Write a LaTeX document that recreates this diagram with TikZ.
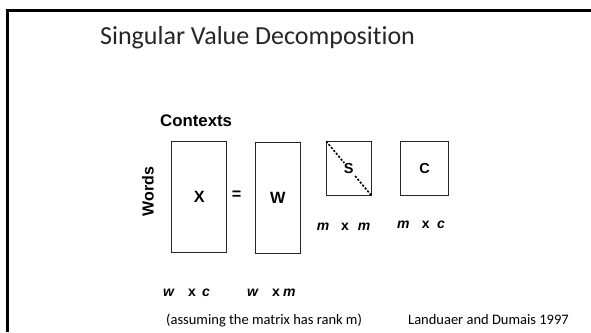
\documentclass[tikz,border=0pt]{standalone}
\usepackage{fontspec}
\setmainfont{Carlito}[Ligatures=NoCommon]
\newfontfamily\arialf{Liberation Sans}
\usetikzlibrary{calc}
\begin{document}
\begin{tikzpicture}[x=1pt,y=-1pt,
  mat/.style={draw=black!85,line width=0.9pt,inner sep=0pt},
  big/.style={font=\arialf\bfseries\fontsize{16.3}{18}\selectfont},
  small/.style={font=\arialf\bfseries\fontsize{14.5}{17}\selectfont},
  dimlab/.style={inner sep=0pt,anchor=base west,font=\arialf\bfseries\itshape\fontsize{14}{16}\selectfont},
  diag/.style={line width=1.6pt,dash pattern=on 2.2pt off 1.6pt},
  note/.style={inner sep=0pt,anchor=base west,font=\fontsize{14.5}{17}\selectfont}]
\useasboundingbox (0,0) rectangle (591,332);
\fill[white] (0,0) rectangle (591,332);
\draw[line width=2.2pt] (7.5,332) -- (7.5,10.5) -- (591,10.5);
\node[inner sep=0pt,anchor=base west,text=black!85,font=\fontsize{26}{30}\selectfont] (title) at (100,44.5) {Singular Value Decomposition};
\node[inner sep=0pt,anchor=base west,font=\arialf\bfseries\fontsize{16.8}{19}\selectfont] (ctx) at (160,126.7) {Contexts};
\node[inner sep=0pt,rotate=90,anchor=base west,font=\arialf\bfseries\fontsize{16}{18}\selectfont] (words) at (153.5,216.7) {Words};
\node[mat,big,minimum width=55pt,minimum height=111pt] (X) at (199.2,197.2) {X};
\node[inner sep=0pt,big] (eq) at (236.7,195.5) {=};
\node[mat,big,minimum width=44.3pt,minimum height=111pt] (W) at (277.8,197.6) {W};
\node[mat,small,minimum width=44.3pt,minimum height=53.3pt] (S) at (348.8,168.4) {S};
\node[mat,small,minimum width=47.6pt,minimum height=54pt] (C) at (424.5,168.7) {C};
\draw[diag] (S.north west) -- ($(S.north west)!0.4!(S.south east)$);
\draw[diag] ($(S.north west)!0.64!(S.south east)$) -- (S.south east);
\node[dimlab] (dmm) at (316.7,230) {\makebox[24.3pt][l]{m}\makebox[16.7pt][l]{\upshape x}m};
\node[dimlab] (dmc) at (397,228.3) {\makebox[24.7pt][l]{m}\makebox[15.3pt][l]{\upshape x}c};
\node[dimlab] (dwc) at (163,296.5) {\makebox[25pt][l]{w}\makebox[14pt][l]{\upshape x}c};
\node[dimlab] (dwm) at (247,296.5) {\makebox[25pt][l]{w}\makebox[11pt][l]{\upshape x}m};
\node[note] (rank) at (166,324) {(assuming the matrix has rank m)};
\node[note] (cite) at (408,324) {Landuaer and Dumais 1997};
\end{tikzpicture}
\end{document}
